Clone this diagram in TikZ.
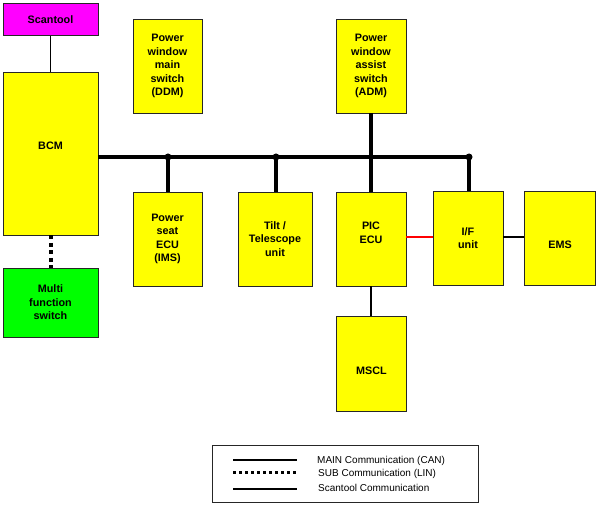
\documentclass[tikz,border=0pt]{standalone}
\usepackage{fontspec}
\setmainfont{Liberation Sans}
\definecolor{boxyellow}{RGB}{255,255,0}
\definecolor{boxmagenta}{RGB}{255,0,255}
\definecolor{boxgreen}{RGB}{0,255,0}
\definecolor{linkred}{RGB}{255,0,0}
\begin{document}
\begin{tikzpicture}[x=1pt,y=-1pt,
  box/.style={draw=black!85, line width=0.9pt, inner sep=0pt, align=center,
    font=\fontsize{10.8}{13.5}\selectfont\bfseries},
  yel/.style={box, fill=boxyellow},
  lbl/.style={inner sep=0pt, align=center, font=\fontsize{10.8}{13.5}\selectfont\bfseries},
  can/.style={line width=4pt},
  lin/.style={line width=4pt, dash pattern=on 4pt off 3.5pt},
  scan/.style={line width=1.4pt},
  junc/.style={circle, fill=black, inner sep=0pt, minimum size=7pt},
  legtxt/.style={inner sep=0pt, anchor=west, font=\fontsize{10}{12}\selectfont}
]
\useasboundingbox (0,0) rectangle (600,505);
% boxes
\node[box, fill=boxmagenta, minimum width=95pt, minimum height=32pt] (scantool) at (50.5,19.5) {Scantool};
\node[yel, minimum width=95pt, minimum height=163pt] (bcm) at (50.5,153.5) {};
\node[lbl] (bcmt) at (50.5,146) {BCM};
\node[box, fill=boxgreen, minimum width=95pt, minimum height=69pt] (mfs) at (50.5,302.5) {Multi\\function\\switch};
\node[yel, minimum width=69pt, minimum height=94pt] (ddm) at (167.5,66) {Power\\window\\main\\switch\\(DDM)};
\node[yel, minimum width=70pt, minimum height=94pt] (adm) at (371,66) {Power\\window\\assist\\switch\\(ADM)};
\node[yel, minimum width=69pt, minimum height=94pt] (seat) at (167.5,239) {Power\\seat\\ECU\\(IMS)};
\node[yel, minimum width=74pt, minimum height=94pt] (tilt) at (275,239) {Tilt /\\Telescope\\unit};
\node[yel, minimum width=70pt, minimum height=94pt] (pic) at (371,239) {};
\node[lbl] (pict) at (371,233) {PIC\\ECU};
\node[yel, minimum width=70pt, minimum height=94pt] (if) at (468,238) {I/F\\unit};
\node[yel, minimum width=71pt, minimum height=94pt] (ems) at (560,238) {};
\node[lbl] (emst) at (560,245) {EMS};
\node[yel, minimum width=70pt, minimum height=95pt] (mscl) at (371,363.5) {};
\node[lbl] (msclt) at (371.5,371) {MSCL};
% bus
\coordinate (busend) at (471,157);
\coordinate (j1) at (168,157);
\coordinate (j2) at (276,157);
\coordinate (j3) at (371,157);
\coordinate (j4) at (469,157);
\draw[can] (bcm.east |- busend) -- (busend);
\draw[can] (j1) -- (j1 |- seat.north);
\draw[can] (j2) -- (j2 |- tilt.north);
\draw[can] (adm.south) -- (pic.north);
\draw[can] (j4) -- (j4 |- if.north);
\node[junc] (d1) at (j1) {};
\node[junc] (d2) at (j2) {};
\node[junc, minimum size=5.5pt] (d3) at (j3) {};
\node[junc] (d4) at (j4) {};
\draw[scan] (scantool.south) -- (bcm.north);
\draw[lin] (bcm.south) -- (mfs.north);
\draw[scan] (pic.south) -- (mscl.north);
\draw[line width=1.4pt, linkred] (pic.east |- 0,237) -- (if.west |- 0,237);
\draw[scan] (if.east |- 0,237) -- (ems.west |- 0,237);
% legend
\node[draw=black!85, line width=0.9pt, minimum width=266pt, minimum height=57pt, inner sep=0pt] (legend) at (345,473.5) {};
\coordinate (l1a) at (233,460); \coordinate (l1b) at (297,460);
\coordinate (l2a) at (233,472); \coordinate (l2b) at (297,472);
\coordinate (l3a) at (233,489); \coordinate (l3b) at (297,489);
\draw[line width=2.6pt] (l1a) -- (l1b);
\draw[line width=3pt, dash pattern=on 3pt off 3pt] (l2a) -- (l2b);
\draw[line width=1.4pt] (l3a) -- (l3b);
\node[legtxt] (t1) at (317,461) {MAIN Communication (CAN)};
\node[legtxt] (t2) at (318,473.5) {SUB Communication (LIN)};
\node[legtxt] (t3) at (318,487.5) {Scantool Communication};
\end{tikzpicture}
\end{document}
